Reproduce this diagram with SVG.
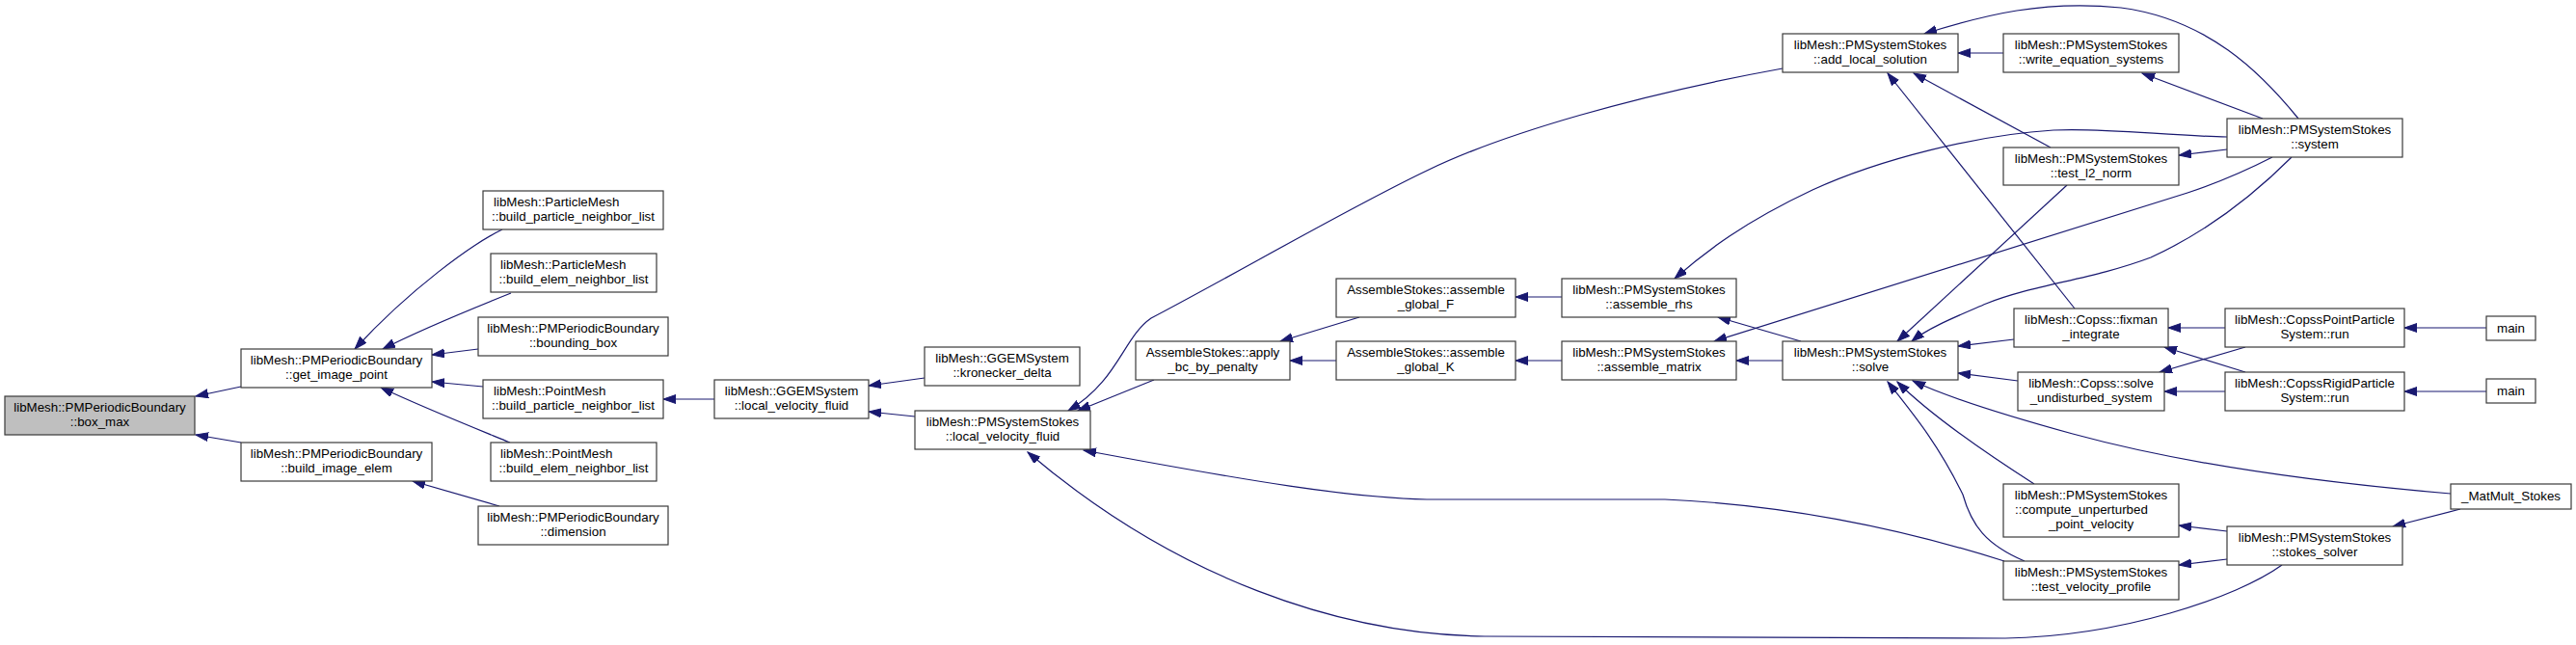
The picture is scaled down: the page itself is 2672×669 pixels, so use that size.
<svg xmlns="http://www.w3.org/2000/svg" width="2672" height="669" viewBox="0 0 2672 669">
<defs>
<style>
.n rect{fill:#ffffff;stroke:#3a3a3a;stroke-width:1.2}
.n.h rect{fill:#bfbfbf}
.n text{font-family:"Liberation Sans",Arial,Helvetica,sans-serif;font-size:13.33px;fill:#000;text-anchor:middle}
.n text.l{text-anchor:start}
#edges path{fill:none;stroke:#191970;stroke-width:1.2;marker-end:url(#ah)}
</style>
<marker id="ah" markerUnits="userSpaceOnUse" markerWidth="14" markerHeight="10" refX="13" refY="4.5" orient="auto">
<path d="M0,0 L13,4.5 L0,9 z" fill="#191970" stroke="#191970" stroke-width="1"/>
</marker>
</defs>
<rect width="2672" height="669" fill="#ffffff"/>
<g id="edges">
<path d="M250,401 L203,411"/>
<path d="M250,459 L203,451"/>
<path d="M521,238 C490,253 425,300 368,362"/>
<path d="M530,304 C490,320 440,340 397,362"/>
<path d="M496,362 L448,368"/>
<path d="M501,401 L448,396"/>
<path d="M529,459 C490,443 440,423 395,402"/>
<path d="M518,525 L428,499"/>
<path d="M741,414 L688,414"/>
<path d="M959,392 L901,400"/>
<path d="M949,432 L901,427"/>
<path d="M1197,394 L1118,426"/>
<path d="M1849,71 C1700,98 1560,138 1480,177 C1400,215 1280,285 1194,330 C1165,350 1160,395 1108,426"/>
<path d="M2079,582 C2000,557 1880,525 1727,518 L1480,518 C1400,516 1300,500 1124,467"/>
<path d="M2367,586 C2320,620 2200,660 2080,662 L1540,660 C1390,658 1220,600 1066,469"/>
<path d="M2078,55 L2031,55"/>
<path d="M2384,123 C2345,75 2290,20 2200,8 C2120,0 2060,15 1996,35"/>
<path d="M2127,153 L1985,76"/>
<path d="M2152,320 L1958,76"/>
<path d="M2347,123 L2222,76"/>
<path d="M2310,155 L2260,161"/>
<path d="M2310,142 C2250,141 2180,132 2130,135 C2050,140 1950,165 1880,197 C1810,230 1770,260 1737,289"/>
<path d="M2357,163 C2320,182 2290,193 2269,200 L1778,354"/>
<path d="M2377,163 C2340,200 2290,240 2231,267 C2170,290 2110,295 2060,315 C2030,328 2000,340 1983,354"/>
<path d="M2144,192 L1968,354"/>
<path d="M2089,352 L2031,359"/>
<path d="M2093,395 L2031,387"/>
<path d="M2542,512 C2400,500 2260,480 2150,450 C2070,428 2020,412 1984,395"/>
<path d="M2110,502 C2060,470 2000,428 1968,396"/>
<path d="M2100,582 C2060,565 2045,545 2036,513 C2010,460 1985,430 1958,396"/>
<path d="M1868,354 L1782,329"/>
<path d="M1849,374 L1801,374"/>
<path d="M1620,374 L1572,374"/>
<path d="M1620,308 L1572,308"/>
<path d="M1410,329 L1328,354"/>
<path d="M1386,374 L1338,374"/>
<path d="M2308,340 L2249,340"/>
<path d="M2329,360 L2240,386"/>
<path d="M2329,386 L2245,360"/>
<path d="M2308,406 L2245,406"/>
<path d="M2579,340 L2494,340"/>
<path d="M2579,406 L2494,406"/>
<path d="M2310,551 L2260,545"/>
<path d="M2310,580 L2260,586"/>
<path d="M2552,528 L2482,546"/>
</g>
<g id="box_max" class="n h"><rect x="5" y="411" width="197" height="40"/><text x="103.5" y="427">libMesh::PMPeriodicBoundary</text><text x="103.5" y="442">::box_max</text></g>
<g id="get_image_point" class="n"><rect x="250" y="362" width="198" height="40"/><text x="349" y="378">libMesh::PMPeriodicBoundary</text><text x="349" y="393">::get_image_point</text></g>
<g id="build_image_elem" class="n"><rect x="250" y="459" width="198" height="40"/><text x="349" y="475">libMesh::PMPeriodicBoundary</text><text x="349" y="490">::build_image_elem</text></g>
<g id="pm_build_particle_neighbor_list" class="n"><rect x="501" y="198" width="187" height="40"/><text class="l" x="512" y="214">libMesh::ParticleMesh</text><text x="594.5" y="229">::build_particle_neighbor_list</text></g>
<g id="pm_build_elem_neighbor_list" class="n"><rect x="509" y="263" width="172" height="40"/><text class="l" x="519" y="279">libMesh::ParticleMesh</text><text x="595" y="294">::build_elem_neighbor_list</text></g>
<g id="bounding_box" class="n"><rect x="496" y="329" width="197" height="40"/><text x="594.5" y="345">libMesh::PMPeriodicBoundary</text><text x="594.5" y="360">::bounding_box</text></g>
<g id="ptm_build_particle_neighbor_list" class="n"><rect x="501" y="394" width="187" height="40"/><text class="l" x="512" y="410">libMesh::PointMesh</text><text x="594.5" y="425">::build_particle_neighbor_list</text></g>
<g id="ptm_build_elem_neighbor_list" class="n"><rect x="509" y="459" width="172" height="40"/><text class="l" x="519" y="475">libMesh::PointMesh</text><text x="595" y="490">::build_elem_neighbor_list</text></g>
<g id="dimension" class="n"><rect x="496" y="525" width="197" height="40"/><text x="594.5" y="541">libMesh::PMPeriodicBoundary</text><text x="594.5" y="556">::dimension</text></g>
<g id="ggem_local_velocity_fluid" class="n"><rect x="741" y="394" width="160" height="40"/><text x="821" y="410">libMesh::GGEMSystem</text><text x="821" y="425">::local_velocity_fluid</text></g>
<g id="kronecker_delta" class="n"><rect x="959" y="360" width="161" height="40"/><text x="1039.5" y="376">libMesh::GGEMSystem</text><text x="1039.5" y="391">::kronecker_delta</text></g>
<g id="pmss_local_velocity_fluid" class="n"><rect x="949" y="426" width="182" height="40"/><text x="1040" y="442">libMesh::PMSystemStokes</text><text x="1040" y="457">::local_velocity_fluid</text></g>
<g id="apply_bc_by_penalty" class="n"><rect x="1178" y="354" width="160" height="40"/><text x="1258" y="370">AssembleStokes::apply</text><text x="1258" y="385">_bc_by_penalty</text></g>
<g id="assemble_global_F" class="n"><rect x="1386" y="289" width="186" height="40"/><text x="1479" y="305">AssembleStokes::assemble</text><text x="1479" y="320">_global_F</text></g>
<g id="assemble_global_K" class="n"><rect x="1386" y="354" width="186" height="40"/><text x="1479" y="370">AssembleStokes::assemble</text><text x="1479" y="385">_global_K</text></g>
<g id="assemble_rhs" class="n"><rect x="1620" y="289" width="181" height="40"/><text x="1710.5" y="305">libMesh::PMSystemStokes</text><text x="1710.5" y="320">::assemble_rhs</text></g>
<g id="assemble_matrix" class="n"><rect x="1620" y="354" width="181" height="40"/><text x="1710.5" y="370">libMesh::PMSystemStokes</text><text x="1710.5" y="385">::assemble_matrix</text></g>
<g id="solve" class="n"><rect x="1849" y="354" width="182" height="40"/><text x="1940" y="370">libMesh::PMSystemStokes</text><text x="1940" y="385">::solve</text></g>
<g id="add_local_solution" class="n"><rect x="1849" y="35" width="182" height="40"/><text x="1940" y="51">libMesh::PMSystemStokes</text><text x="1940" y="66">::add_local_solution</text></g>
<g id="write_equation_systems" class="n"><rect x="2078" y="35" width="182" height="40"/><text x="2169" y="51">libMesh::PMSystemStokes</text><text x="2169" y="66">::write_equation_systems</text></g>
<g id="test_l2_norm" class="n"><rect x="2078" y="153" width="182" height="39"/><text x="2169" y="169">libMesh::PMSystemStokes</text><text x="2169" y="184">::test_l2_norm</text></g>
<g id="system" class="n"><rect x="2310" y="123" width="182" height="40"/><text x="2401" y="139">libMesh::PMSystemStokes</text><text x="2401" y="154">::system</text></g>
<g id="fixman_integrate" class="n"><rect x="2089" y="320" width="160" height="40"/><text x="2169" y="336">libMesh::Copss::fixman</text><text x="2169" y="351">_integrate</text></g>
<g id="solve_undisturbed_system" class="n"><rect x="2093" y="386" width="152" height="40"/><text x="2169" y="402">libMesh::Copss::solve</text><text x="2169" y="417">_undisturbed_system</text></g>
<g id="copss_point_run" class="n"><rect x="2308" y="320" width="186" height="40"/><text x="2401" y="336">libMesh::CopssPointParticle</text><text x="2401" y="351">System::run</text></g>
<g id="copss_rigid_run" class="n"><rect x="2308" y="386" width="186" height="40"/><text x="2401" y="402">libMesh::CopssRigidParticle</text><text x="2401" y="417">System::run</text></g>
<g id="main1" class="n"><rect x="2579" y="328" width="51" height="25"/><text x="2604.5" y="345">main</text></g>
<g id="main2" class="n"><rect x="2579" y="393" width="51" height="25"/><text x="2604.5" y="410">main</text></g>
<g id="matmult_stokes" class="n"><rect x="2542" y="502" width="125" height="26"/><text x="2604.5" y="519">_MatMult_Stokes</text></g>
<g id="compute_unperturbed_point_velocity" class="n"><rect x="2078" y="502" width="182" height="55"/><text x="2169" y="518">libMesh::PMSystemStokes</text><text class="l" x="2090" y="533">::compute_unperturbed</text><text x="2169" y="548">_point_velocity</text></g>
<g id="test_velocity_profile" class="n"><rect x="2078" y="582" width="182" height="40"/><text x="2169" y="598">libMesh::PMSystemStokes</text><text x="2169" y="613">::test_velocity_profile</text></g>
<g id="stokes_solver" class="n"><rect x="2310" y="546" width="182" height="40"/><text x="2401" y="562">libMesh::PMSystemStokes</text><text x="2401" y="577">::stokes_solver</text></g>
</svg>
